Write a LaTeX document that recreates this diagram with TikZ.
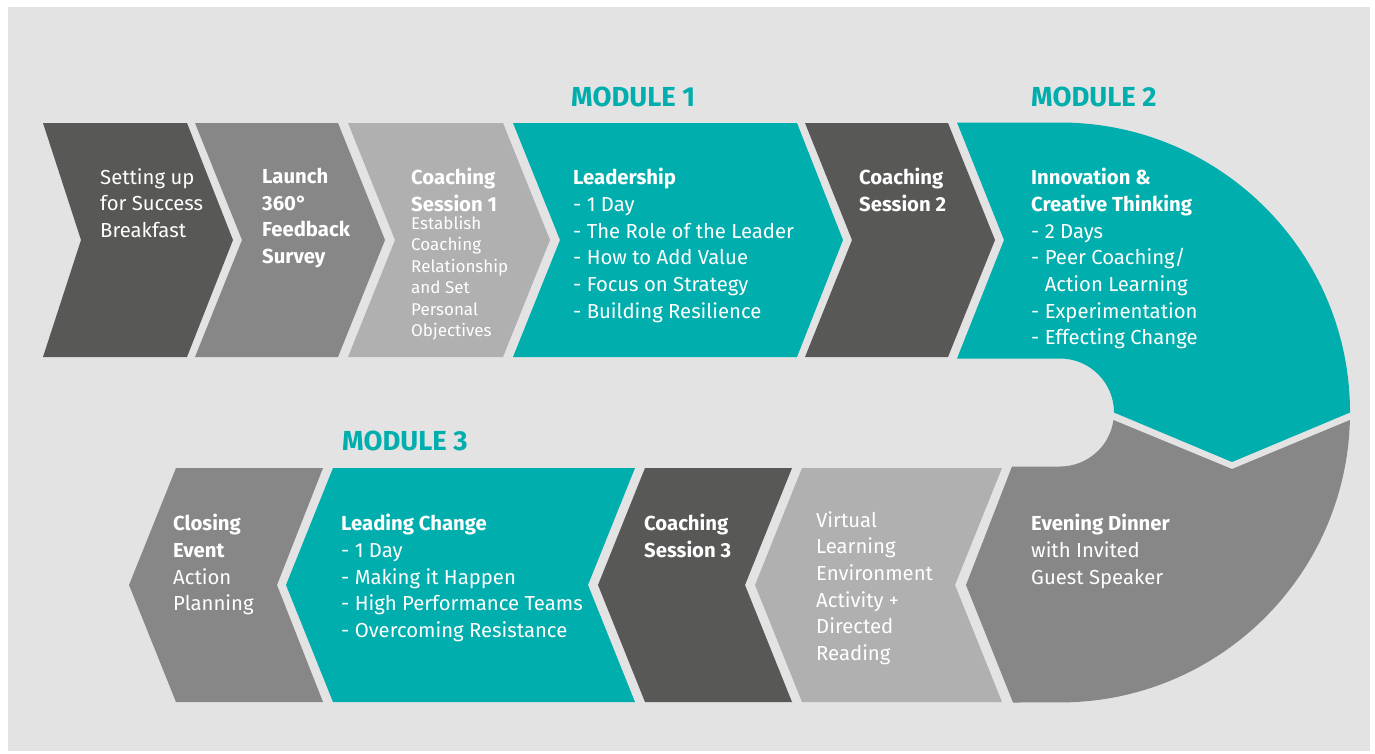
\documentclass[tikz,border=0pt]{standalone}
\usepackage{fontspec}
\setmainfont{Fira Sans}
\definecolor{cdark}{RGB}{88,88,86}
\definecolor{cmid}{RGB}{135,135,135}
\definecolor{clight}{RGB}{176,176,176}
\definecolor{cteal}{RGB}{0,174,173}
\definecolor{cbg}{RGB}{227,227,227}
\begin{document}
\begin{tikzpicture}[x=1pt,y=-1pt,
  txt/.style={text=white, align=left, anchor=north west, inner sep=0pt, font=\fontsize{20.3}{26.7}\selectfont},
  smalltxt/.style={txt, font=\fontsize{17}{21.5}\selectfont},
  modlabel/.style={text=cteal, anchor=west, inner sep=0pt, font=\fontsize{27.5}{30}\selectfont\bfseries},
  dk/.style={fill=cdark}, md/.style={fill=cmid}, lt/.style={fill=clight}, tl/.style={fill=cteal}]
\useasboundingbox (0,0) rectangle (1375,753);
\fill[white] (0,0) rectangle (1375,753);
\fill[cbg] (8,7) rectangle (1370,751);
% top row
\fill[dk] (43,123) -- (187,123) -- (233,240) -- (187,357) -- (43,357) -- (81,240) -- cycle;
\fill[md] (195,123) -- (338,123) -- (385,240) -- (338,357) -- (195,357) -- (242,240) -- cycle;
\fill[lt] (348,123) -- (503,123) -- (550,240) -- (503,357) -- (348,357) -- (395,240) -- cycle;
\fill[tl] (513,123) -- (797,123) -- (843,240) -- (797,357) -- (513,357) -- (560,240) -- cycle;
\fill[dk] (805,123) -- (948,123) -- (995,240) -- (948,357) -- (805,357) -- (852,240) -- cycle;
\fill[tl] (957,122.5) -- (1060,122.5) arc[start angle=-90, end angle=0, radius=290] -- (1232,462) -- (1114,412.5) arc[start angle=0, end angle=-90, radius=54] -- (957,358.5) -- (1004,240) -- cycle;
% bottom row
\fill[md] (176,468) -- (323,468) -- (277,585) -- (323,702) -- (176,702) -- (129,585) -- cycle;
\fill[tl] (333,468) -- (635,468) -- (588,585) -- (635,702) -- (333,702) -- (286,585) -- cycle;
\fill[dk] (645,468) -- (792,468) -- (745,585) -- (792,702) -- (645,702) -- (598,585) -- cycle;
\fill[lt] (802,468) -- (1002,468) -- (955,585) -- (1002,702) -- (802,702) -- (755,585) -- cycle;
\fill[md] (1012,466.5) -- (1060,466.5) arc[start angle=90, end angle=8, radius=54] -- (1232,469) -- (1349.9,420) arc[start angle=1.5, end angle=90, radius=290] -- (1013,702.5) -- (966,585) -- cycle;
% module labels
\node[modlabel] (m1) at (571,97) {MODULE 1};
\node[modlabel] (m2) at (1031,97) {MODULE 2};
\node[modlabel] (m3) at (342,441) {MODULE 3};
% texts top
\node[txt] (t1) at (100,168) {Setting up\\for Success\\Breakfast};
\node[txt, font=\fontsize{20.3}{26.7}\selectfont\bfseries] (t2) at (262,168) {Launch\\360°\\Feedback\\Survey};
\node[txt, font=\fontsize{20.3}{26.7}\selectfont\bfseries] (t3a) at (411,168) {Coaching\\Session 1};
\node[smalltxt] (t3b) at (411,216) {Establish\\Coaching\\Relationship\\and Set\\Personal\\Objectives};
\node[txt] (t4) at (573,168) {\textbf{Leadership}\\- 1 Day\\- The Role of the Leader\\- How to Add Value\\- Focus on Strategy\\- Building Resilience};
\node[txt, font=\fontsize{20.3}{26.7}\selectfont\bfseries] (t5) at (859,168) {Coaching\\Session 2};
\node[txt] (t6) at (1031,168) {\textbf{Innovation \&}\\\textbf{Creative Thinking}\\- 2 Days\\- Peer Coaching/\\\hphantom{- }Action Learning\\- Experimentation\\- Effecting Change};
% texts bottom
\node[txt] (t7) at (173,514) {\textbf{Closing}\\\textbf{Event}\\Action\\Planning};
\node[txt] (t8) at (341,514) {\textbf{Leading Change}\\- 1 Day\\- Making it Happen\\- High Performance Teams\\- Overcoming Resistance};
\node[txt, font=\fontsize{20.3}{26.7}\selectfont\bfseries] (t9) at (644,514) {Coaching\\Session 3};
\node[txt] (t10) at (816,511) {Virtual\\Learning\\Environment\\Activity +\\Directed\\Reading};
\node[txt] (t11) at (1031,514) {\textbf{Evening Dinner}\\with Invited\\Guest Speaker};
\end{tikzpicture}
\end{document}
